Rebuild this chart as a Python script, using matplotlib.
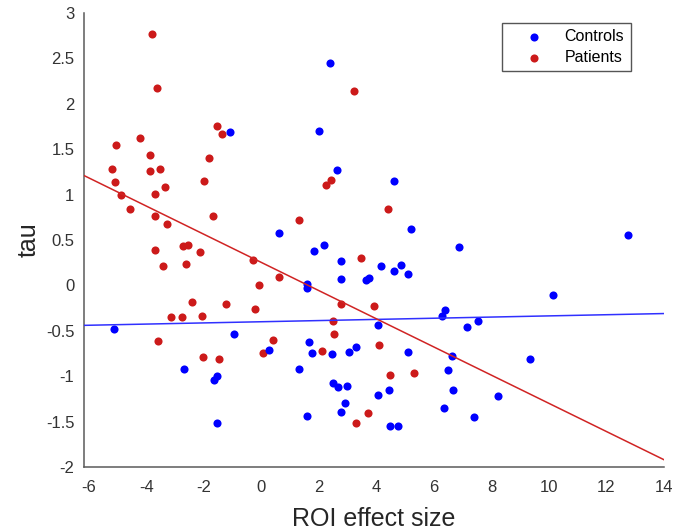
import matplotlib
matplotlib.use("Agg")
import matplotlib.pyplot as plt

plt.rcParams["font.family"] = ["Liberation Sans", "DejaVu Sans"]
plt.rcParams["axes.unicode_minus"] = False

# Patients (red)
patients_x = [-3.78, -3.62, -1.55, -1.35, -5.05, -4.20, -3.85, -1.82, -5.18, -3.85,
              -3.51, -1.98, -5.09, -4.86, -3.70, -3.33, -4.56, -3.70, -3.28, -1.69,
              3.22, 2.42, 2.24, 1.31, -3.69, -3.41, -2.72, -2.56, -2.14, -2.60,
              -0.30, 0.62, -0.06, 3.48, 2.78, 3.92, 2.50, 2.53, 4.08, -2.39,
              -1.23, -0.20, -3.13, -2.75, -2.05, -3.59, 0.42, 0.07, -2.04, -1.47,
              2.12, 4.41, 4.48, 5.31, 3.71, 3.31]
patients_y = [2.77, 2.17, 1.75, 1.67, 1.55, 1.62, 1.44, 1.40, 1.28, 1.26,
              1.28, 1.15, 1.14, 1.00, 1.01, 1.08, 0.84, 0.76, 0.68, 0.76,
              2.14, 1.16, 1.11, 0.72, 0.39, 0.21, 0.43, 0.45, 0.37, 0.24,
              0.28, 0.09, 0.00, 0.30, -0.21, -0.23, -0.39, -0.54, -0.66, -0.18,
              -0.20, -0.26, -0.35, -0.35, -0.34, -0.61, -0.60, -0.74, -0.79, -0.81,
              -0.72, 0.84, -0.99, -0.97, -1.41, -1.51]

# Controls (blue)
controls_x = [-1.10, 2.39, 2.01, 2.62, 0.62, 2.18, 1.83, 2.78, 2.78, 3.65,
              3.73, 1.58, 1.60, 4.06, -5.12, -0.95, 0.28, -2.70, -1.63, -1.52,
              -1.55, 1.67, 1.78, 2.45, 3.06, 3.29, 1.33, 2.51, 2.68, 2.97,
              2.92, 2.78, 1.60, 4.07, 4.63, 5.19, 6.88, 4.18, 4.63, 4.85,
              5.11, 12.74, 10.15, 6.39, 6.30, 7.15, 7.52, 5.09, 6.62, 9.33,
              6.49, 4.45, 6.67, 8.24, 6.34, 7.40, 4.48, 4.77]
controls_y = [1.69, 2.45, 1.70, 1.27, 0.58, 0.44, 0.38, 0.27, 0.07, 0.06,
              0.08, -0.03, 0.01, -0.44, -0.48, -0.54, -0.71, -0.92, -1.04, -1.00,
              -1.52, -0.62, -0.74, -0.76, -0.73, -0.68, -0.92, -1.08, -1.12, -1.11,
              -1.29, -1.39, -1.44, -1.21, 1.15, 0.62, 0.42, 0.21, 0.16, 0.23,
              0.13, 0.55, -0.11, -0.27, -0.34, -0.46, -0.39, -0.73, -0.78, -0.81,
              -0.93, -1.15, -1.15, -1.22, -1.35, -1.45, -1.55, -1.55]

# least-squares fit lines (end points)
fit_x = [-6.16, 14]
patients_fit_y = [1.21, -1.92]
controls_fit_y = [-0.44, -0.31]

blue = "#0000ff"
red = "#cc1a1a"

fig = plt.figure(figsize=(6.89, 5.30), dpi=100)
ax = fig.add_axes([84 / 689, 1 - 467 / 530, 580 / 689, 454 / 530])

ax.scatter(patients_x, patients_y, s=34, color=red, linewidths=0, label="Patients", zorder=2)
ax.scatter(controls_x, controls_y, s=34, color=blue, linewidths=0, label="Controls", zorder=3)
ax.plot(fit_x, controls_fit_y, color="#3030ff", lw=1.1, zorder=4)
ax.plot(fit_x, patients_fit_y, color="#d02424", lw=1.1, zorder=4)

ax.set_xlim(-6.16, 14)
ax.set_ylim(-2, 3)
ax.set_xticks(range(-6, 15, 2))
ax.set_yticks([-2, -1.5, -1, -0.5, 0, 0.5, 1, 1.5, 2, 2.5, 3])
ax.set_yticklabels(["-2", "-1.5", "-1", "-0.5", "0", "0.5", "1", "1.5", "2", "2.5", "3"])

for side in ("top", "right"):
    ax.spines[side].set_visible(False)
for side in ("left", "bottom"):
    ax.spines[side].set_color("#5a5a5a")
    ax.spines[side].set_linewidth(1.1)
ax.tick_params(length=0, labelsize=12, labelcolor="#333333")
ax.tick_params(axis="x", pad=9)
ax.tick_params(axis="y", pad=7)

ax.set_xlabel("ROI effect size", fontsize=18, color="#262626", labelpad=9)
ax.set_ylabel("tau", fontsize=18, color="#262626", labelpad=4)

handles, labels = ax.get_legend_handles_labels()
leg = ax.legend([handles[1], handles[0]], [labels[1], labels[0]],
                loc="upper right", bbox_to_anchor=(0.9426, 0.9786), borderaxespad=0,
                fontsize=11.5, scatterpoints=1, handlelength=3.1, handletextpad=0.4,
                labelspacing=0.35, borderpad=0.4, fancybox=False, framealpha=1)
leg.get_frame().set_edgecolor("#555555")
leg.get_frame().set_linewidth(1.0)

fig.savefig("out.png", dpi=100)
